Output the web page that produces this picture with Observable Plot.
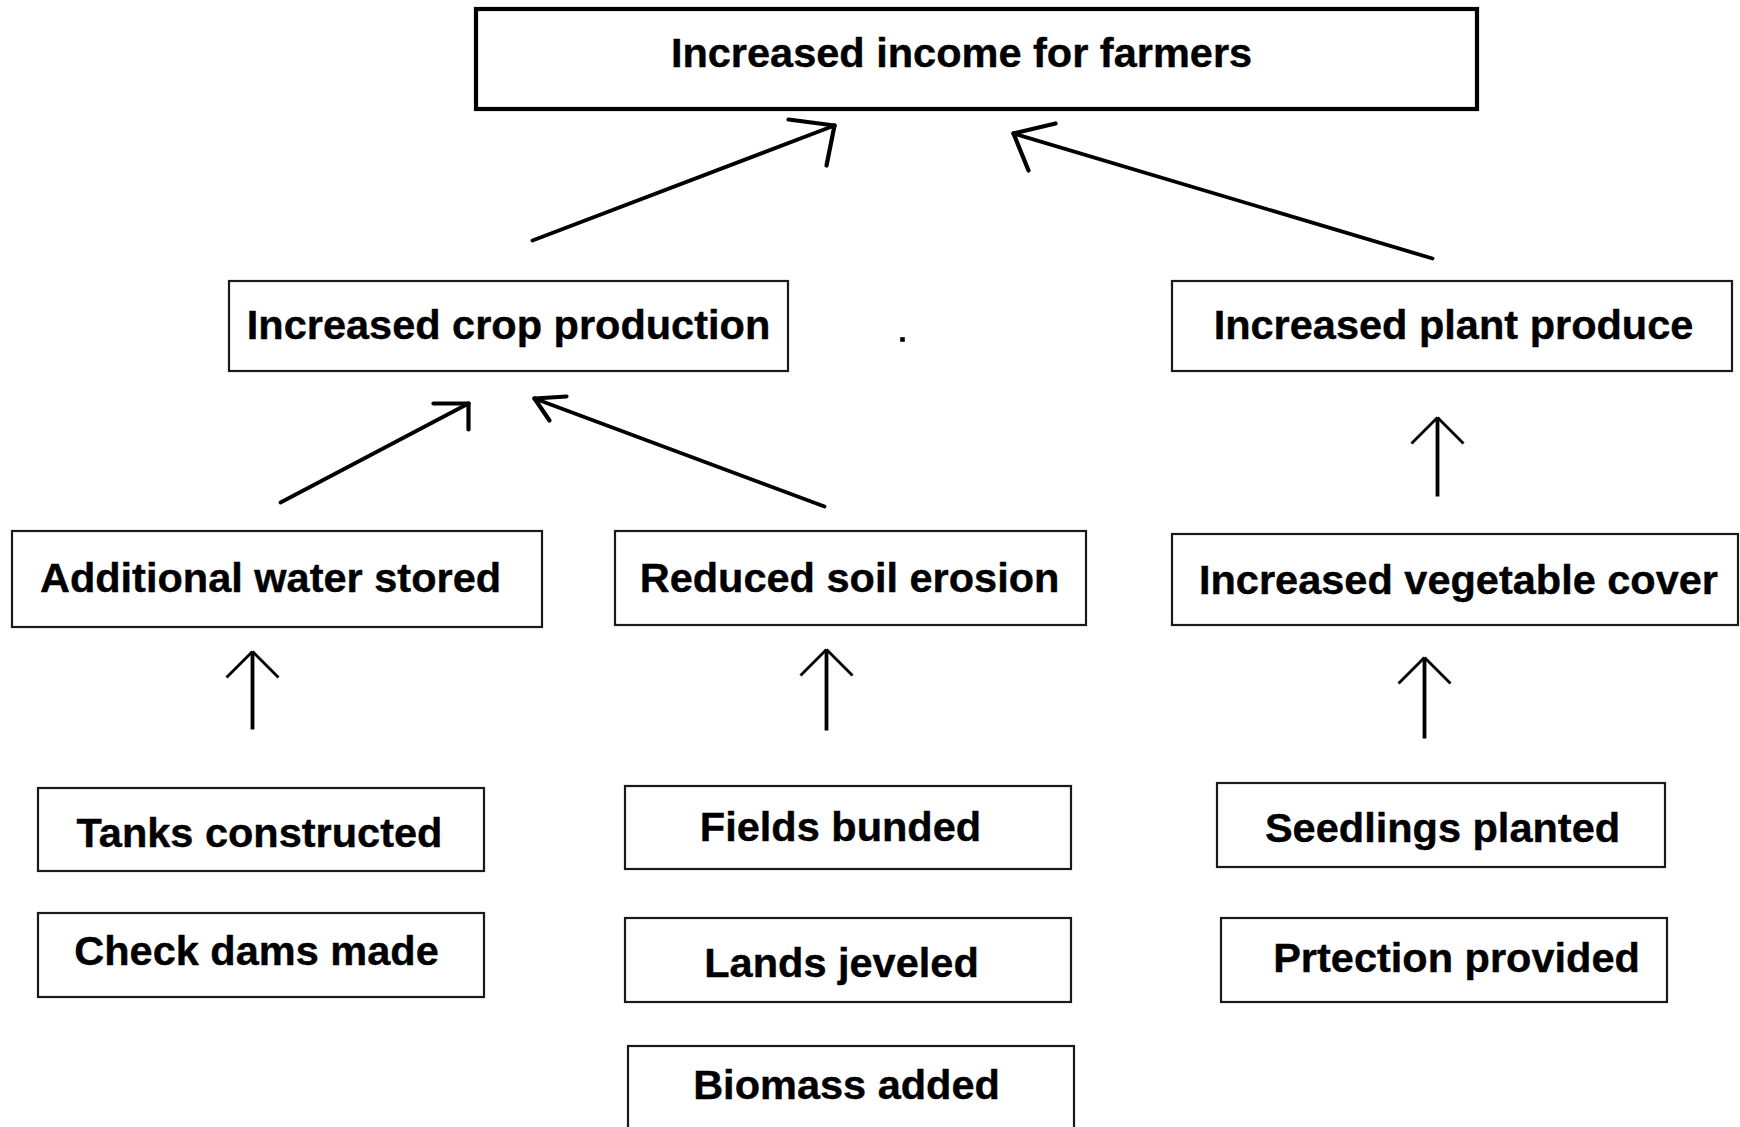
<!DOCTYPE html>
<html>
<head>
<meta charset="utf-8">
<script src="https://cdn.jsdelivr.net/npm/d3@7"></script>
<script src="https://cdn.jsdelivr.net/npm/@observablehq/plot@0.6"></script>
<style>
  html, body { margin: 0; padding: 0; background: #fff; }
  svg { display: block; }
</style>
</head>
<body>
<div id="chart"></div>
<script>
// ---- Node data (diagram coordinates in pixels of the original figure) ----
const labels = [
  "Increased income for farmers",
  "Increased crop production",
  "Increased plant produce",
  "Additional water stored",
  "Reduced soil erosion",
  "Increased vegetable cover",
  "Tanks constructed",
  "Check dams made",
  "Fields bunded",
  "Lands jeveled",
  "Biomass added",
  "Seedlings planted",
  "Prtection provided"
];
const boxLeft   = [476, 229, 1172, 12, 615, 1172, 38, 38, 625, 625, 628, 1217, 1221];
const boxRight  = [1477, 788, 1732, 542, 1086, 1738, 484, 484, 1071, 1071, 1074, 1665, 1667];
const boxTop    = [9, 281, 281, 531, 531, 534, 788, 913, 786, 918, 1046, 783, 918];
const boxBottom = [109, 371, 371, 627, 625, 625, 871, 997, 869, 1002, 1142, 867, 1002];
const labelX    = [961, 508, 1453, 270, 849, 1458, 259, 256, 840, 841, 846, 1442, 1456];
const labelY    = [53, 325, 325, 578, 578, 580, 833, 951, 827, 963, 1085, 828, 958];
const isGoal    = [true, false, false, false, false, false, false, false, false, false, false, false, false];

// ---- Arrow data: tail -> tip, with hand-drawn head wing end points ----
const arrowTailX = [532, 1432, 280, 824, 1437, 252, 826, 1424];
const arrowTailY = [240, 258, 502, 506, 496, 729, 730, 738];
const arrowTipX  = [834, 1013, 468, 534, 1437, 252, 826, 1424];
const arrowTipY  = [125, 133, 403, 398, 417, 651, 649, 657];
const wingAX     = [788, 1055, 433, 566, 1411, 226, 800, 1398];
const wingAY     = [119, 123, 403, 396, 443, 677, 675, 683];
const wingBX     = [826, 1028, 468, 549, 1463, 278, 852, 1450];
const wingBY     = [165, 170, 429, 420, 443, 677, 675, 683];
const vertical   = [false, false, false, false, true, true, true, true];

// stray dot in the figure
const dotX = [902];
const dotY = [339];

// ---- build tables ----
const nodes = labels.map((label, i) => ({
  label, x1: boxLeft[i], x2: boxRight[i], y1: boxTop[i], y2: boxBottom[i],
  tx: labelX[i], ty: labelY[i], goal: isGoal[i]
}));
const arrows = arrowTailX.map((_, i) => ({
  x1: arrowTailX[i], y1: arrowTailY[i], x2: arrowTipX[i], y2: arrowTipY[i],
  ax: wingAX[i], ay: wingAY[i], bx: wingBX[i], by: wingBY[i], v: vertical[i]
}));
const wings = arrows.flatMap(a => [
  {x1: a.x2, y1: a.y2, x2: a.ax, y2: a.ay, v: a.v},
  {x1: a.x2, y1: a.y2, x2: a.bx, y2: a.by, v: a.v}
]);
const dots = dotX.map((x, i) => ({x, y: dotY[i]}));

const W = 1740, H = 1127;
const font = "'Liberation Sans', Arial, Helvetica, sans-serif";

const chart = Plot.plot({
  width: W,
  height: H,
  margin: 0,
  x: {domain: [0, W], range: [0, W], axis: null},
  y: {domain: [0, H], range: [0, H], axis: null},
  style: {fontFamily: font, background: "#fff", overflow: "hidden"},
  marks: [
    Plot.rect(nodes.filter(d => !d.goal), {x1: "x1", x2: "x2", y1: "y1", y2: "y2", fill: "#fff", stroke: "#1a1a1a", strokeWidth: 2.2}),
    Plot.rect(nodes.filter(d => d.goal), {x1: "x1", x2: "x2", y1: "y1", y2: "y2", fill: "#fff", stroke: "#000", strokeWidth: 4.2}),
    Plot.text(nodes, {x: "tx", y: "ty", text: "label", fontSize: 41.5, fontWeight: "bold", fill: "#000", stroke: "#000", strokeWidth: 0.4, textAnchor: "middle", fontFamily: font}),
    Plot.link(arrows.filter(d => !d.v), {x1: "x1", y1: "y1", x2: "x2", y2: "y2", stroke: "#000", strokeWidth: 3.8, strokeLinecap: "round"}),
    Plot.link(wings.filter(d => !d.v), {x1: "x1", y1: "y1", x2: "x2", y2: "y2", stroke: "#000", strokeWidth: 4.2, strokeLinecap: "round", strokeLinejoin: "round"}),
    Plot.link(arrows.filter(d => d.v), {x1: "x1", y1: "y1", x2: "x2", y2: "y2", stroke: "#000", strokeWidth: 3.8, strokeLinecap: "butt"}),
    Plot.link(wings.filter(d => d.v), {x1: "x1", y1: "y1", x2: "x2", y2: "y2", stroke: "#000", strokeWidth: 2.8, strokeLinecap: "butt"}),
    Plot.dot(dots, {x: "x", y: "y", symbol: "square", r: 2.6, fill: "#000", stroke: "none"})
  ]
});
document.getElementById("chart").appendChild(chart);
</script>
</body>
</html>
